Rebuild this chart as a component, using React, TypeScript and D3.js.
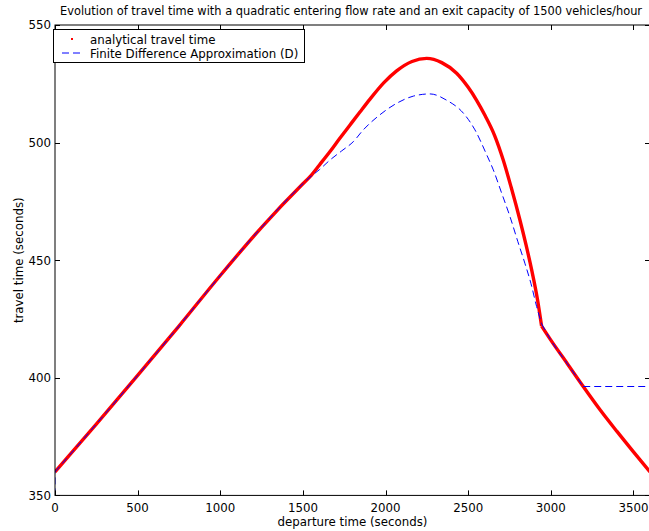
import { useEffect, useRef } from 'react';
import * as d3 from 'd3';

// departure time (s) and analytical travel time (s)
const departure = [
  0, 250, 500, 750, 1000, 1250, 1500, 1543, 1600, 1664, 1720, 1785, 1845, 1906, 1990,
  2067, 2160, 2249, 2340, 2430, 2500, 2551, 2602, 2660, 2712, 2760, 2813, 2850, 2884,
  2920, 2944, 3000, 3100, 3196, 3300, 3400, 3500, 3600,
];
const analytical = [
  360, 380.3, 401, 422, 443.5, 464, 482.5, 485.5, 490.5, 496.2, 501.5, 507.5, 513, 518.5, 525.5,
  530.5, 534.5, 535.8, 534, 529.5, 523.5, 518, 511.5, 503, 492.6, 481, 467.1, 456.5, 445.9,
  433, 422, 416, 406, 396.3, 386.2, 377.2, 368.5, 360,
];
const analyticalBreaks = [2944];

// finite difference approximation (D)
const fdTime = [
  0, 0, 250, 500, 750, 1000, 1250, 1500, 1543, 1600, 1664, 1735, 1805, 1865, 1960, 2067,
  2170, 2269, 2370, 2471, 2541, 2612, 2652, 2700, 2753, 2800, 2843, 2880, 2914, 2944,
  3000, 3100, 3196, 3600,
];
const fdValue = [
  350, 360, 380.3, 401, 422, 443.5, 464, 482.5, 485.3, 488.5, 492.6, 496.5, 500.4, 505.4,
  511.5, 516.7, 519.8, 520.7, 518, 512.5, 505.4, 494.8, 488.4, 479, 468.5, 458, 448.7, 440,
  430.3, 423, 416, 406, 396.3, 396.3,
];
const fdBreaks = [1, 29, 32];

const xTicks = [0, 500, 1000, 1500, 2000, 2500, 3000, 3500];
const yTicks = [350, 400, 450, 500, 550];

const W = 649;
const H = 531;
const FONT = 'DejaVu Sans, Liberation Sans, Arial, sans-serif';
const FS = 11.8;

// split a series at the given indices so corners stay sharp
function pieces(xs: number[], ys: number[], cuts: number[]) {
  const out: [number, number][][] = [];
  let start = 0;
  [...cuts, xs.length - 1].forEach(c => {
    const seg: [number, number][] = [];
    for (let i = start; i <= c; i++) seg.push([xs[i], ys[i]]);
    out.push(seg);
    start = c;
  });
  return out;
}

function Chart() {
  const ref = useRef<SVGSVGElement>(null);

  useEffect(() => {
    const left = 55;
    const right = 650;
    const top = 25;
    const bottom = 495.4;

    const svg = d3.select(ref.current).attr('width', W).attr('height', H);
    svg.selectAll('*').remove();

    const x = d3.scaleLinear().domain([0, 3600]).range([left, right]);
    const y = d3.scaleLinear().domain([350, 550]).range([bottom, top]);

    svg.append('rect').attr('width', W).attr('height', H).attr('fill', '#fff');

    svg
      .append('clipPath')
      .attr('id', 'plot')
      .append('rect')
      .attr('x', left)
      .attr('y', top)
      .attr('width', right - left)
      .attr('height', bottom - top);

    const g = svg.append('g').attr('clip-path', 'url(#plot)');

    const line = d3
      .line<[number, number]>()
      .x(d => x(d[0]))
      .y(d => y(d[1]))
      .curve(d3.curveMonotoneX);
    const straight = d3
      .line<[number, number]>()
      .x(d => x(d[0]))
      .y(d => y(d[1]));

    const redIdx = analyticalBreaks.map(b => departure.indexOf(b));
    const redPath = pieces(departure, analytical, redIdx)
      .map(s => line(s))
      .join('');
    g.append('path')
      .attr('d', redPath)
      .attr('fill', 'none')
      .attr('stroke', '#ff0000')
      .attr('stroke-width', 3.4)
      .attr('stroke-linejoin', 'round');

    const bluePath = pieces(fdTime, fdValue, fdBreaks)
      .map(s => (s[0][0] === s[1][0] ? straight(s) : line(s)))
      .join('');
    g.append('path')
      .attr('d', bluePath)
      .attr('fill', 'none')
      .attr('stroke', '#0000ff')
      .attr('stroke-width', 1)
      .attr('stroke-dasharray', '7,4');

    // axes box with inward ticks on all sides
    const tickLen = 5;
    const axes = svg.append('g').attr('stroke', '#000').attr('stroke-width', 1);
    axes
      .append('rect')
      .attr('x', left)
      .attr('y', top)
      .attr('width', right - left)
      .attr('height', bottom - top)
      .attr('fill', 'none');

    xTicks.forEach(t => {
      const px = Math.round(x(t)) + 0.5;
      axes.append('line').attr('x1', px).attr('x2', px).attr('y1', bottom).attr('y2', bottom - tickLen);
      axes.append('line').attr('x1', px).attr('x2', px).attr('y1', top).attr('y2', top + tickLen);
    });
    yTicks.forEach(t => {
      const py = Math.round(y(t)) + 0.5;
      axes.append('line').attr('x1', left).attr('x2', left + tickLen).attr('y1', py).attr('y2', py);
      axes.append('line').attr('x1', right).attr('x2', right - tickLen).attr('y1', py).attr('y2', py);
    });

    const labels = svg.append('g').attr('font-family', FONT).attr('font-size', FS).attr('fill', '#000');

    labels
      .selectAll('text.xt')
      .data(xTicks)
      .join('text')
      .attr('class', 'xt')
      .attr('x', d => x(d))
      .attr('y', bottom + 16.5)
      .attr('text-anchor', 'middle')
      .text(d => d);

    labels
      .selectAll('text.yt')
      .data(yTicks)
      .join('text')
      .attr('class', 'yt')
      .attr('x', left - 4)
      .attr('y', d => y(d) + 4.3)
      .attr('text-anchor', 'end')
      .text(d => d);

    labels
      .append('text')
      .attr('x', (left + right) / 2)
      .attr('y', 525.5)
      .attr('text-anchor', 'middle')
      .text('departure time (seconds)');

    labels
      .append('text')
      .attr('transform', `translate(22.5,${(top + bottom) / 2}) rotate(-90)`)
      .attr('text-anchor', 'middle')
      .text('travel time (seconds)');

    labels
      .append('text')
      .attr('x', 60)
      .attr('y', 15)
      .attr('font-size', 11.4)
      .text(
        'Evolution of travel time with a quadratic entering flow rate and an exit capacity of 1500 vehicles/hour'
      );

    // legend
    const lg = svg.append('g');
    lg.append('rect')
      .attr('x', 53.5)
      .attr('y', 29.5)
      .attr('width', 251)
      .attr('height', 33)
      .attr('fill', '#fff')
      .attr('stroke', '#000');
    lg.append('rect')
      .attr('x', 71)
      .attr('y', 38)
      .attr('width', 2)
      .attr('height', 2)
      .attr('fill', '#ff0000');
    lg.append('line')
      .attr('x1', 62)
      .attr('x2', 83)
      .attr('y1', 53)
      .attr('y2', 53)
      .attr('stroke', '#0000ff')
      .attr('stroke-dasharray', '7,4');
    lg.append('text')
      .attr('x', 90)
      .attr('y', 43.5)
      .attr('font-family', FONT)
      .attr('font-size', FS)
      .text('analytical travel time');
    lg.append('text')
      .attr('x', 90)
      .attr('y', 57.5)
      .attr('font-family', FONT)
      .attr('font-size', FS)
      .text('Finite Difference Approximation (D)');

    return () => {
      svg.selectAll('*').remove();
    };
  }, []);

  return (
    <svg
      ref={ref}
      style={{ position: 'absolute', left: 0, top: 0 }}
      role="img"
      aria-label="Travel time vs departure time"
    />
  );
}

export default function App() {
  return <Chart />;
}
